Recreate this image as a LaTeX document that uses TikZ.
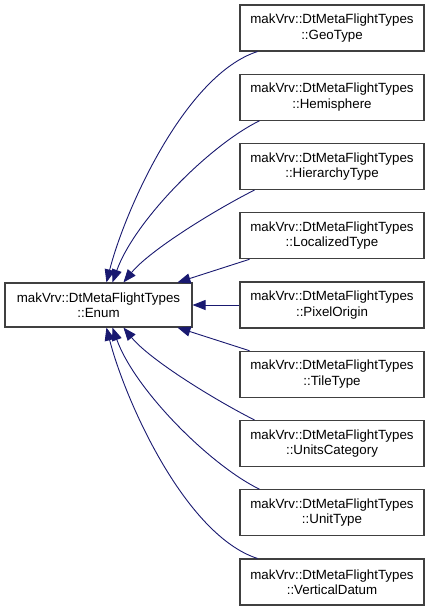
\documentclass[tikz,border=0pt]{standalone}
\usepackage{fontspec}
\setmainfont{Liberation Sans}
\usetikzlibrary{arrows.meta}
\definecolor{edgeblue}{HTML}{191970}
\definecolor{boxgray}{HTML}{404040}
\begin{document}
\begin{tikzpicture}[x=1pt,y=-1pt,
  cls/.style={draw=boxgray,line width=1.1pt,fill=white,inner sep=0pt,align=center,
    font=\fontsize{13.33}{15.5}\selectfont,text=black},
  rbox/.style={cls,minimum width=184pt,minimum height=46pt},
  inh/.style={draw=edgeblue,line width=0.9pt,-{Triangle[length=13pt,width=10pt]}}]
\useasboundingbox (0,0) rectangle (432,611);
\node[cls,minimum width=187pt,minimum height=44pt] (enum) at (98.5,305) {makVrv::DtMetaFlightTypes\\::Enum};
\node[rbox] (geo)  at (332,28)     {makVrv::DtMetaFlightTypes\\::GeoType};
\node[rbox] (hemi) at (332,97.25)  {makVrv::DtMetaFlightTypes\\::Hemisphere};
\node[rbox] (hier) at (332,166.5)  {makVrv::DtMetaFlightTypes\\::HierarchyType};
\node[rbox] (loc)  at (332,235.75) {makVrv::DtMetaFlightTypes\\::LocalizedType};
\node[rbox] (pix)  at (332,305)    {makVrv::DtMetaFlightTypes\\::PixelOrigin};
\node[rbox] (tile) at (332,374.25) {makVrv::DtMetaFlightTypes\\::TileType};
\node[rbox] (ucat) at (332,443.5)  {makVrv::DtMetaFlightTypes\\::UnitsCategory};
\node[rbox] (utyp) at (332,512.75) {makVrv::DtMetaFlightTypes\\::UnitType};
\node[rbox] (vert) at (332,582)    {makVrv::DtMetaFlightTypes\\::VerticalDatum};
% upper edges
\draw[inh] ([xshift=18pt]geo.south west) .. controls (185,75) and (125,210) .. ([xshift=102pt]enum.north west);
\draw[inh] ([xshift=20pt]hemi.south west) .. controls (210,145) and (135,220) .. ([xshift=108pt]enum.north west);
\draw[inh] ([xshift=15pt]hier.south west) .. controls (215,210) and (150,250) .. ([xshift=119pt]enum.north west);
\draw[inh] ([xshift=10pt]loc.south west) -- ([xshift=173pt]enum.north west);
\draw[inh] (pix.west) -- (enum.east);
% lower edges
\draw[inh] ([xshift=10pt]tile.north west) -- ([xshift=173pt]enum.south west);
\draw[inh] ([xshift=15pt]ucat.north west) .. controls (215,400) and (150,360) .. ([xshift=119pt]enum.south west);
\draw[inh] ([xshift=20pt]utyp.north west) .. controls (210,465) and (135,390) .. ([xshift=108pt]enum.south west);
\draw[inh] ([xshift=18pt]vert.north west) .. controls (185,535) and (125,400) .. ([xshift=102pt]enum.south west);
\end{tikzpicture}
\end{document}
